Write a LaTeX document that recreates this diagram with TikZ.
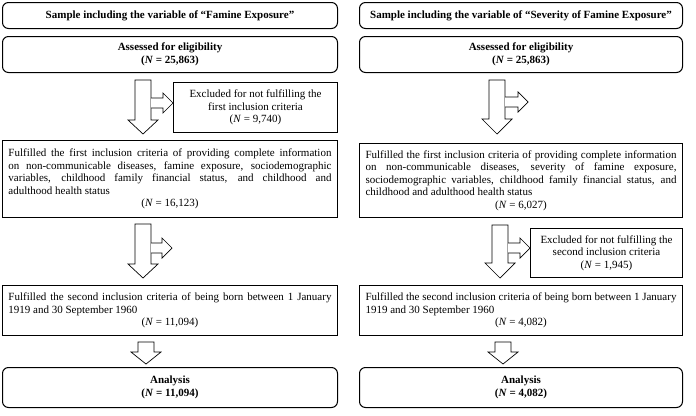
\documentclass[tikz,border=0pt]{standalone}
\usepackage{fontspec}
\setmainfont{Liberation Serif}
\usetikzlibrary{calc}
\newcommand{\TextFont}{\fontsize{11}{12.6}\selectfont}
\tikzset{
	RoundBox/.style={
		draw=black,
		line width=1pt,
		rounded corners=6pt,
		inner sep=0pt,
		align=center,
		anchor=north west,
		font=\TextFont\bfseries,
	},
	PlainBox/.style={
		draw=black,
		line width=1pt,
		inner xsep=6pt,
		inner ysep=0pt,
		anchor=north west,
		font=\TextFont,
	},
	BlockArrow/.style={draw=black, line width=0.7pt, fill=white, line join=miter}
}
% centre x, top y, head y, tip y
\newcommand{\DownArrow}[4]{%
	\draw[BlockArrow] (#1-8,#2) -- (#1+8,#2) -- (#1+8,#3) -- (#1+15,#3) -- (#1,#4)
		-- (#1-15,#3) -- (#1-8,#3) -- cycle;
}
% centre x, top y, head y, tip y, branch y, branch tip x
\newcommand{\SplitArrow}[6]{%
	\DownArrow{#1}{#2}{#3}{#4}
	\draw[BlockArrow] (#1+8,#5-5) -- (#6-10,#5-5) -- (#6-10,#5-10) -- (#6,#5)
		-- (#6-10,#5+10) -- (#6-10,#5+5) -- (#1+8,#5+5);
}
\begin{document}
\begin{tikzpicture}[x=1pt, y=-1pt]
	\useasboundingbox (0,0) rectangle (696,415);
	% left column
	\node[RoundBox, minimum width=335pt, minimum height=26pt] (titleL) at (2,2)
		{Sample including the variable of “Famine Exposure”};
	\node[RoundBox, minimum width=335pt, minimum height=36pt] (assessL) at (2,36)
		{Assessed for eligibility\\(\textit{N} = 25,863)};
	\node[PlainBox, align=center, minimum width=164pt, minimum height=50pt] (exclL) at (173,82)
		{Excluded for not fulfilling the\\first inclusion criteria\\(\textit{N} = 9,740)};
	\node[PlainBox, text width=323pt, align=justify, minimum height=77pt] (firstL) at (2,140)
		{Fulfilled the first inclusion criteria of providing complete information\linebreak
		on non-communicable diseases, famine exposure, sociodemographic\linebreak
		variables, childhood family financial status, and childhood and\linebreak
		adulthood health status\par{\centering(\textit{N} = 16,123)\par}};
	\node[PlainBox, text width=323pt, align=justify, minimum height=50pt] (secondL) at (2,285)
		{Fulfilled the second inclusion criteria of being born between 1 January\linebreak
		1919 and 30 September 1960\par{\centering(\textit{N} = 11,094)\par}};
	\node[RoundBox, minimum width=335pt, minimum height=40pt] (analysisL) at (2,367)
		{Analysis\\(\textit{N} = 11,094)};
	% right column
	\node[RoundBox, minimum width=323pt, minimum height=26pt] (titleR) at (359,2)
		{Sample including the variable of “Severity of Famine Exposure”};
	\node[RoundBox, minimum width=323pt, minimum height=36pt] (assessR) at (359,36)
		{Assessed for eligibility\\(\textit{N} = 25,863)};
	\node[PlainBox, text width=311pt, align=justify, minimum height=74pt] (firstR) at (359,143)
		{Fulfilled the first inclusion criteria of providing complete information\linebreak
		on non-communicable diseases, severity of famine exposure,\linebreak
		sociodemographic variables, childhood family financial status, and\linebreak
		childhood and adulthood health status\par{\centering(\textit{N} = 6,027)\par}};
	\node[PlainBox, align=center, minimum width=152pt, minimum height=49pt] (exclR) at (530,228)
		{Excluded for not fulfilling the\\second inclusion criteria\\(\textit{N} = 1,945)};
	\node[PlainBox, text width=311pt, align=justify, minimum height=50pt] (secondR) at (359,285)
		{Fulfilled the second inclusion criteria of being born between 1 January\linebreak
		1919 and 30 September 1960\par{\centering(\textit{N} = 4,082)\par}};
	\node[RoundBox, minimum width=323pt, minimum height=40pt] (analysisR) at (359,367)
		{Analysis\\(\textit{N} = 4,082)};
	% block arrows
	\SplitArrow{143}{80}{120}{134}{103}{173}
	\SplitArrow{497}{80}{119}{134}{102}{528}
	\SplitArrow{143}{224}{264}{278}{248}{172}
	\SplitArrow{500}{225}{263}{278}{248}{530}
	\DownArrow{146}{342}{352}{364}
	\DownArrow{503}{342}{352}{364}
\end{tikzpicture}
\end{document}
